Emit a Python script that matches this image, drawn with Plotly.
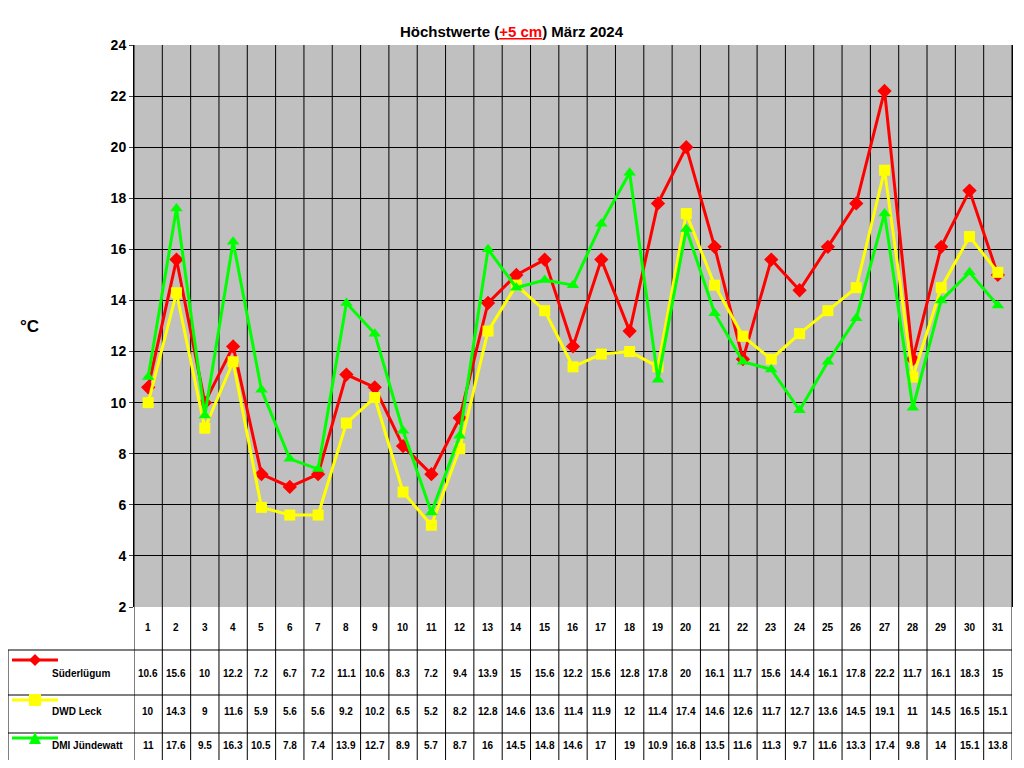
import plotly.graph_objects as go

days = list(range(1, 32))
sued = [10.6,15.6,10,12.2,7.2,6.7,7.2,11.1,10.6,8.3,7.2,9.4,13.9,15,15.6,12.2,15.6,12.8,17.8,20,16.1,11.7,15.6,14.4,16.1,17.8,22.2,11.7,16.1,18.3,15]
dwd = [10,14.3,9,11.6,5.9,5.6,5.6,9.2,10.2,6.5,5.2,8.2,12.8,14.6,13.6,11.4,11.9,12,11.4,17.4,14.6,12.6,11.7,12.7,13.6,14.5,19.1,11,14.5,16.5,15.1]
dmi = [11,17.6,9.5,16.3,10.5,7.8,7.4,13.9,12.7,8.9,5.7,8.7,16,14.5,14.8,14.6,17,19,10.9,16.8,13.5,11.6,11.3,9.7,11.6,13.3,17.4,9.8,14,15.1,13.8]
names = ["Süderlügum", "DWD Leck", "DMI Jündewatt"]
colors = ["#FF0000", "#FFFF00", "#00FF00"]
symbols = ["diamond", "square", "triangle-up"]
series = [sued, dwd, dmi]

OFF = 8  # page body offset
W, H = 1024 - 2 * OFF, 768 - 2 * OFF
L, R, T = 134 - OFF, 4, 45 - OFF
B = H - (607 - OFF)
pw, ph = W - L - R, H - T - B
def px(X): return (X - OFF - L) / pw
def py(Y): return (H - B - (Y - OFF)) / ph

FONT = "Liberation Sans"
fig = go.Figure()
for n, c, s, v in zip(names, colors, symbols, series):
    fig.add_trace(go.Scatter(x=days, y=v, name=n, mode="lines+markers",
                             line=dict(color=c, width=3),
                             marker=dict(symbol=s, size=11, color=c)))

shapes, ann = [], []
for i in range(32):
    xv = i + 0.5
    shapes.append(dict(type="line", xref="x", yref="paper", x0=xv, x1=xv,
                       y0=py(765), y1=1, line=dict(color="black", width=1), layer="below"))
for Y in [650, 695, 733, 765]:
    shapes.append(dict(type="line", xref="paper", yref="paper", x0=px(8), x1=1,
                       y0=py(Y), y1=py(Y), line=dict(color="black", width=1)))
shapes.append(dict(type="line", xref="paper", yref="paper", x0=px(8), x1=px(8),
                   y0=py(650), y1=py(765), line=dict(color="black", width=1)))
for d in days:
    ann.append(dict(x=d, y=py(635), xref="x", yref="paper", text=f"<b>{d}</b>", showarrow=False,
                    font=dict(size=10, color="black", family=FONT)))
rowY = [681, 719, 753]
legY = [660, 700, 738]
for k, (n, c, s, v) in enumerate(zip(names, colors, symbols, series)):
    for d, val in zip(days, v):
        ann.append(dict(x=d, y=py(rowY[k]), xref="x", yref="paper", text=f"<b>{val:g}</b>", showarrow=False,
                        font=dict(size=10, color="black", family=FONT)))
    ann.append(dict(x=px(50), y=py(rowY[k]), xref="paper", yref="paper", xanchor="left", text=f"<b>{n}</b>",
                    showarrow=False, font=dict(size=10, color="black", family=FONT)))
    shapes.append(dict(type="line", xref="paper", yref="paper", x0=px(12), x1=px(58),
                       y0=py(legY[k]), y1=py(legY[k]), line=dict(color=c, width=3)))
    cx, cy = px(35), py(legY[k])
    dx, dy = 6 / pw, 6 / ph
    if s == "square":
        shapes.append(dict(type="rect", xref="paper", yref="paper", x0=cx-dx, x1=cx+dx, y0=cy-dy, y1=cy+dy,
                           fillcolor=c, line=dict(width=0)))
    elif s == "diamond":
        shapes.append(dict(type="path", xref="paper", yref="paper",
                           path=f"M {cx-dx},{cy} L {cx},{cy+dy} L {cx+dx},{cy} L {cx},{cy-dy} Z",
                           fillcolor=c, line=dict(width=0)))
    else:
        shapes.append(dict(type="path", xref="paper", yref="paper",
                           path=f"M {cx-dx},{cy-dy} L {cx+dx},{cy-dy} L {cx},{cy+dy} Z",
                           fillcolor=c, line=dict(width=0)))
ann.append(dict(x=px(18), y=py(326), xref="paper", yref="paper", text="<b>°C</b>", showarrow=False,
                font=dict(size=17, color="black", family=FONT)))
ann.append(dict(x=px(512), y=py(21), xref="paper", yref="paper", showarrow=False,
                text="<b>Höchstwerte (<span style='color:red'><u>+5 cm</u></span>) März 2024</b>",
                font=dict(size=15, color="black", family=FONT)))

fig.update_layout(
    width=W, height=H, margin=dict(l=L, r=R, t=T, b=B),
    paper_bgcolor="white", plot_bgcolor="#C0C0C0", showlegend=False,
    xaxis=dict(range=[0.5, 31.5], showticklabels=False, showgrid=False, zeroline=False, tickvals=[]),
    yaxis=dict(range=[2, 24], dtick=2, showgrid=True, gridcolor="black", gridwidth=1, zeroline=False,
               tickfont=dict(size=14, color="black", family=FONT), ticks="outside", ticklen=4,
               showline=True, linecolor="black", mirror=True, tickprefix="<b>", ticksuffix="</b>"),
    shapes=shapes, annotations=ann,
)
fig.write_html("out.html")
